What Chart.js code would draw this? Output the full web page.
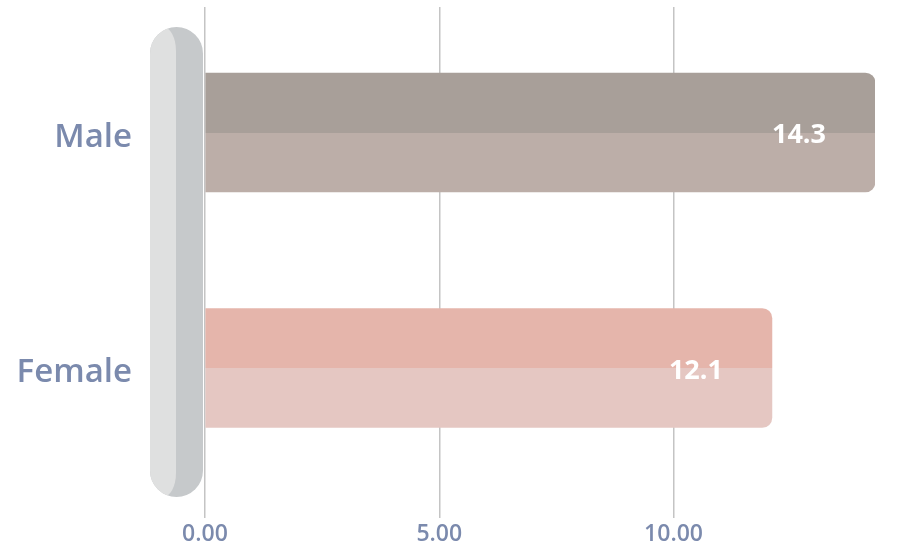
<!DOCTYPE html>
<html>
<head>
<meta charset="utf-8">
<script src="https://cdn.jsdelivr.net/npm/chart.js@4/dist/chart.umd.min.js"></script>
<style>
  html, body { margin: 0; padding: 0; background: #ffffff; }
  #wrap { width: 899px; height: 548px; position: relative; }
  canvas { display: block; }
</style>
</head>
<body>
<div id="wrap"><canvas id="c" width="899" height="548"></canvas></div>
<script>
// Average values per group
const categories = ['Male', 'Female'];
const values = [14.3, 12.1];
const tickValues = [0, 5, 10];

// Two-tone fill for each bar (upper half / lower half)
const barTopColors = ['#a89f99', '#e5b5ab'];
const barBottomColors = ['#bcaea8', '#e5c7c2'];

const BAR_THICKNESS = 119;
const LABEL_COLOR = '#7b8aad';
const FONT = "'Open Sans', 'DejaVu Sans', sans-serif";

function twoTone(ctx) {
  const chart = ctx.chart;
  const i = ctx.dataIndex;
  const ys = chart.scales.y;
  if (!chart.chartArea || !ys || i === undefined) return barBottomColors[0];
  const c = ys.getPixelForValue(i);
  const g = chart.ctx.createLinearGradient(0, c - BAR_THICKNESS / 2, 0, c + BAR_THICKNESS / 2);
  g.addColorStop(0, barTopColors[i]);
  g.addColorStop(0.5, barTopColors[i]);
  g.addColorStop(0.5, barBottomColors[i]);
  g.addColorStop(1, barBottomColors[i]);
  return g;
}

// Rounded grey column behind the zero line
const pillPlugin = {
  id: 'pill',
  beforeDatasetsDraw(chart) {
    const { ctx, chartArea, scales } = chart;
    const right = scales.x.getPixelForValue(0) - 2;
    const w = 53;
    const left = right - w;
    const top = chartArea.top + 20;
    const bottom = chartArea.bottom - 13;
    const r = w / 2;
    ctx.save();
    ctx.beginPath();
    ctx.roundRect(left, top, w, bottom - top, r);
    ctx.fillStyle = '#c6c9cb';
    ctx.fill();
    ctx.clip();
    // lighter left face
    const xm = left + 26;
    const rx = 13, ry = 24;
    ctx.beginPath();
    ctx.moveTo(xm, top + ry);
    ctx.lineTo(xm, bottom - ry);
    ctx.ellipse(xm - rx, bottom - ry, rx, ry, 0, 0, Math.PI / 2);
    ctx.lineTo(left - 2, bottom);
    ctx.lineTo(left - 2, top);
    ctx.lineTo(xm - rx, top);
    ctx.ellipse(xm - rx, top + ry, rx, ry, 0, -Math.PI / 2, 0);
    ctx.closePath();
    ctx.fillStyle = '#dfe0e0';
    ctx.fill();
    ctx.restore();
  }
};

// Value labels drawn inside the end of each bar
const valueLabelPlugin = {
  id: 'valueLabels',
  afterDatasetsDraw(chart) {
    const { ctx } = chart;
    const meta = chart.getDatasetMeta(0);
    ctx.save();
    ctx.fillStyle = '#ffffff';
    ctx.font = "700 27px " + FONT;
    ctx.textAlign = 'center';
    ctx.textBaseline = 'middle';
    meta.data.forEach((bar, i) => {
      ctx.fillText(String(values[i]), bar.x - 76, bar.y + 3);
    });
    ctx.restore();
  }
};

new Chart(document.getElementById('c'), {
  type: 'bar',
  data: {
    datasets: [{
      data: values.map((v, i) => ({ x: v, y: i })),
      backgroundColor: twoTone,
      borderWidth: 0,
      borderRadius: 10,
      borderSkipped: 'start',
      barThickness: BAR_THICKNESS
    }]
  },
  options: {
    indexAxis: 'y',
    responsive: false,
    animation: false,
    devicePixelRatio: 1,
    layout: { padding: { top: 7, right: 24, left: 0, bottom: 0 } },
    plugins: { legend: { display: false }, tooltip: { enabled: false } },
    scales: {
      x: {
        type: 'linear',
        min: 0,
        max: Math.max(...values),
        afterBuildTicks(scale) { scale.ticks = tickValues.map(v => ({ value: v })); },
        afterFit(scale) {
          scale.height = 38;
          scale.paddingLeft = 0;
          scale.paddingRight = 0;
        },
        grid: { color: '#c4c4c4', lineWidth: 1.5, drawTicks: true, tickLength: 8, tickColor: '#c4c4c4' },
        border: { display: false },
        ticks: {
          color: LABEL_COLOR,
          font: { family: FONT, size: 23, weight: '600' },
          padding: 3,
          maxRotation: 0,
          callback: v => Number(v).toFixed(2)
        }
      },
      y: {
        type: 'linear',
        reverse: true,
        offset: false,
        min: -0.533,
        max: 1.603,
        afterBuildTicks(scale) { scale.ticks = categories.map((c, i) => ({ value: i })); },
        afterFit(scale) {
          scale.width = 205;
          scale.paddingTop = 0;
          scale.paddingBottom = 0;
        },
        grid: { display: false, offset: false, drawTicks: true, tickLength: 70 },
        border: { display: false },
        ticks: {
          color: LABEL_COLOR,
          font: { family: FONT, size: 33, weight: '600' },
          padding: 3,
          labelOffset: 5,
          callback: v => categories[v]
        }
      }
    }
  },
  plugins: [pillPlugin, valueLabelPlugin]
});
</script>
</body>
</html>
